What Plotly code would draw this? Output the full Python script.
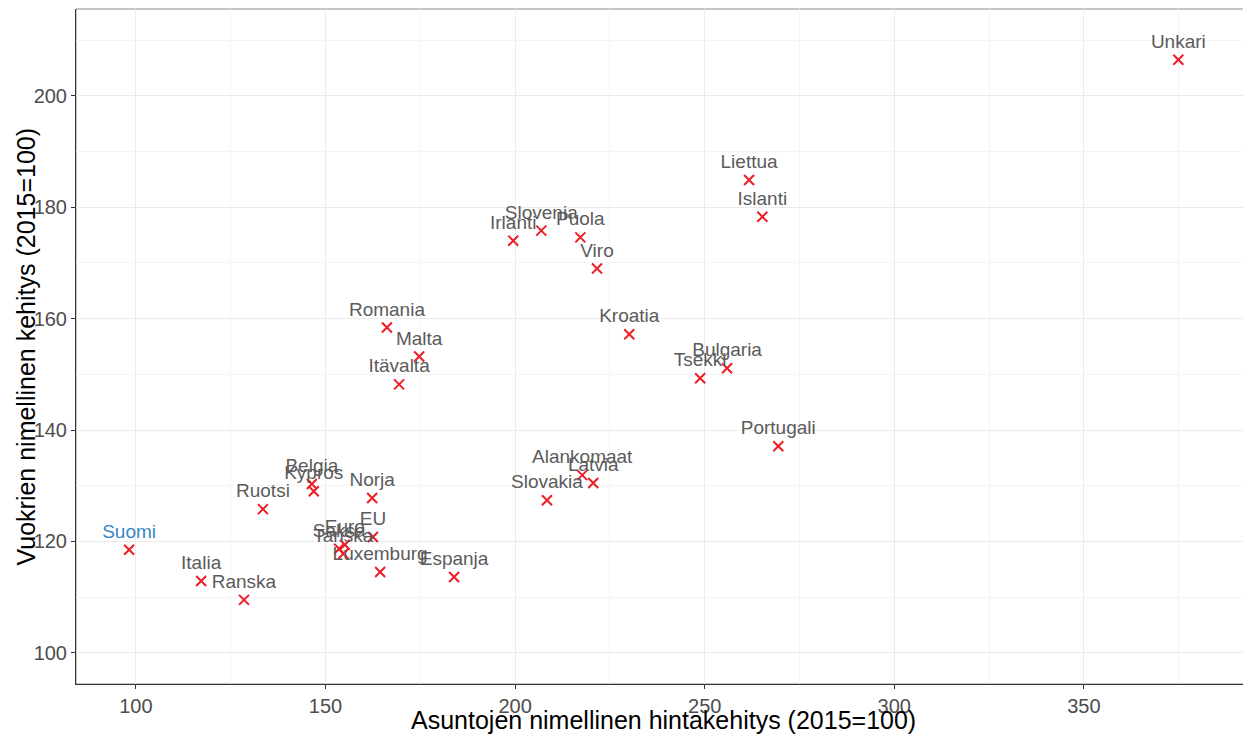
import plotly.graph_objects as go

countries = ["Unkari", "Liettua", "Islanti", "Slovenia", "Irlanti", "Puola", "Viro",
             "Romania", "Malta", "Itävalta", "Kroatia", "Bulgaria", "Tsekki", "Portugali",
             "Alankomaat", "Latvia", "Slovakia", "Norja", "Belgia", "Kypros", "Ruotsi",
             "Suomi", "Italia", "Ranska", "EU", "Euro", "Saksa", "Tanska", "Luxemburg", "Espanja"]
house_price = [374.9, 261.7, 265.2, 206.9, 199.5, 217.2, 221.6,
               166.2, 174.7, 169.4, 230.1, 255.9, 248.8, 269.4,
               217.7, 220.6, 208.4, 162.3, 146.4, 146.9, 133.5,
               98.2, 117.2, 128.5, 162.5, 155.1, 153.6, 154.7, 164.4, 183.9]
rent = [206.5, 184.9, 178.3, 175.8, 174.0, 174.6, 169.0,
        158.4, 153.2, 148.2, 157.2, 151.1, 149.3, 137.1,
        131.9, 130.5, 127.4, 127.8, 130.3, 129.0, 125.8,
        118.5, 112.9, 109.5, 120.8, 119.4, 118.7, 117.8, 114.5, 113.6]

x_ticks = [100, 150, 200, 250, 300, 350]
y_ticks = [100, 120, 140, 160, 180, 200]
x_title = "Asuntojen nimellinen hintakehitys (2015=100)"
y_title = "Vuokrien nimellinen kehitys (2015=100)"

FONT = "Liberation Sans, Arial, sans-serif"
label_colors = ["#3a87c6" if c == "Suomi" else "#5b5b5b" for c in countries]

fig = go.Figure()
fig.add_trace(go.Scatter(
    x=house_price, y=rent, mode="markers+text", text=countries,
    textposition="top center",
    textfont=dict(family=FONT, size=19, color=label_colors),
    marker=dict(symbol="x-thin", size=10, line=dict(color="#ee1c24", width=2), color="#ee1c24"),
    hoverinfo="text", showlegend=False, cliponaxis=False,
))

axis_common = dict(
    showgrid=True, gridcolor="#ebebeb", gridwidth=1, automargin=False,
    zeroline=False, ticks="outside", ticklen=4, tickcolor="#333333", tickwidth=1,
    tickfont=dict(family=FONT, size=20, color="#4d4d4d"),
    showline=True, linecolor="#333333", linewidth=1,
)

# page body has an 8px margin, so the figure is sized to fit the window
fig.update_layout(
    width=1243, height=732,
    margin=dict(l=68, r=1, t=1, b=56),
    plot_bgcolor="white", paper_bgcolor="white",
    xaxis=dict(range=[84.2, 393.8], tickvals=x_ticks,
               minor=dict(showgrid=True, gridcolor="#f4f4f4", tickvals=[125, 175, 225, 275, 325, 375]),
               **axis_common),
    yaxis=dict(range=[94.4, 215.6], tickvals=y_ticks,
               minor=dict(showgrid=True, gridcolor="#f4f4f4", tickvals=[110, 130, 150, 170, 190, 210]),
               **axis_common),
    annotations=[
        dict(text=x_title, xref="paper", yref="paper", x=0.5, y=0, yshift=-36,
             xanchor="center", yanchor="middle", showarrow=False,
             font=dict(family=FONT, size=25, color="black")),
        dict(text=y_title, xref="paper", yref="paper", x=0, y=0.5, xshift=-51,
             xanchor="center", yanchor="middle", showarrow=False, textangle=-90,
             font=dict(family=FONT, size=25, color="black")),
    ],
)

fig.add_shape(type="rect", xref="paper", yref="paper", x0=0, y0=0, x1=1, y1=1,
              line=dict(color="#8c8c8c", width=1), layer="below")

fig.write_html("out.html")
